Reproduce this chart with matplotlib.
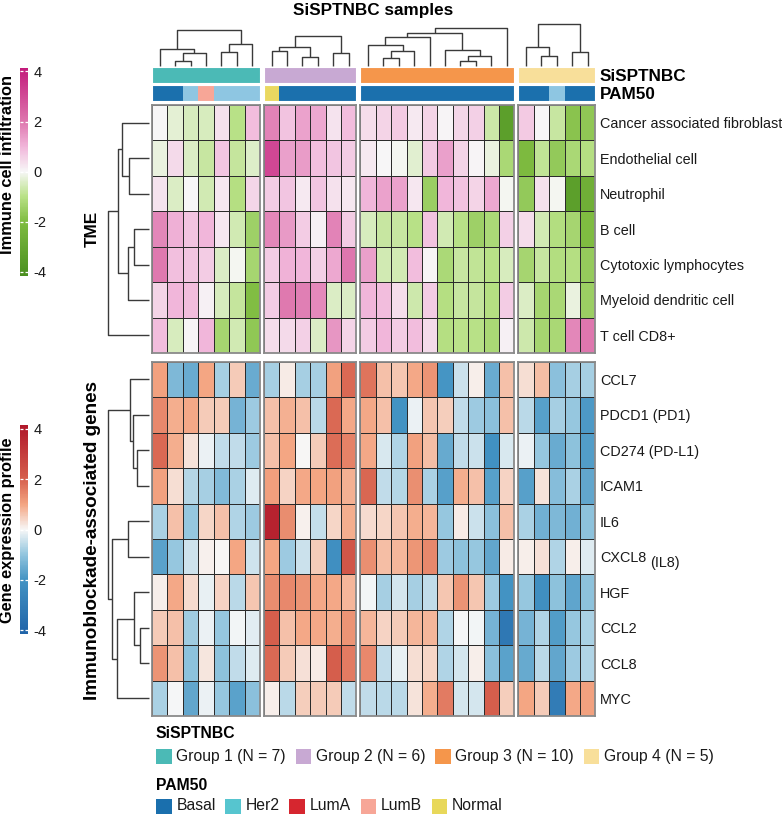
import numpy as np
import matplotlib
matplotlib.use("Agg")
import matplotlib.pyplot as plt
import matplotlib.cm as cm
from matplotlib.colors import LinearSegmentedColormap, ListedColormap, Normalize
from matplotlib.patches import Rectangle

plt.rcParams['font.family'] = ['Liberation Sans', 'DejaVu Sans']
plt.rcParams['axes.unicode_minus'] = False

# ---------------------------------------------------------------------------
# data
# ---------------------------------------------------------------------------
GROUP_LABELS = ['Group 1 (N = 7)', 'Group 2 (N = 6)', 'Group 3 (N = 10)', 'Group 4 (N = 5)']
GROUP_N = [7, 6, 10, 5]
GROUP_COLORS = ['#4bbab6', '#c8a9d3', '#f5964b', '#f8df9a']

PAM50_CLASSES = ['Basal', 'Her2', 'LumA', 'LumB', 'Normal']
PAM50_KEY_COLORS = ['#1a6fad', '#56c5cf', '#d6262f', '#f7a697', '#e8d85a']
PAM50_BAR_COLORS = {'Basal': '#1b70ad', 'Her2': '#8ec6e2', 'LumA': '#d6262f',
                    'LumB': '#f7a697', 'Normal': '#ead860'}

pam50 = ['Basal', 'Basal', 'Her2', 'LumB', 'Her2', 'Her2', 'Her2',
         'Normal', 'Basal', 'Basal', 'Basal', 'Basal', 'Basal',
         'Basal', 'Basal', 'Basal', 'Basal', 'Basal', 'Basal', 'Basal', 'Basal', 'Basal', 'Basal',
         'Basal', 'Basal', 'Her2', 'Basal', 'Basal']

tme_rows = ['Cancer associated fibroblast', 'Endothelial cell', 'Neutrophil', 'B cell',
            'Cytotoxic lymphocytes', 'Myeloid dendritic cell', 'T cell CD8+']
tme_values = np.array([
    [0.0, -0.3, -0.5, -0.5, 0.35, -1.0, 0.9, 1.8, 0.8, 1.3, 1.2, 0.3, 0.9,
     0.4, 0.55, 0.7, 0.2, 0.55, 0.05, 0.5, 0.6, -0.7, -3.4, 0.7, 0.0, -0.75, -1.8, -1.7],
    [-0.2, 0.45, -0.45, -0.75, 0.75, -0.8, -0.4, 3.1, 1.35, 1.4, 0.85, 0.75, 0.65,
     0.2, 0.0, -0.05, -0.35, 0.7, 1.35, 0.55, 0.05, -0.2, -1.25, -2.1, -0.85, -1.65, -1.25, -1.05],
    [0.3, -0.45, 0.0, -0.6, 0.25, -1.05, 0.5, 0.65, 0.75, 0.2, 0.75, 0.35, 0.25,
     1.0, 1.3, 1.3, 0.25, -1.5, 1.0, 0.8, 0.55, 1.2, -0.05, -1.65, 0.35, -0.05, -3.4, -2.6],
    [1.75, 1.1, 0.8, 1.0, 0.25, -0.6, -1.45, 1.75, 1.45, 0.65, 0.1, 1.8, 0.65,
     -0.5, -0.75, -0.75, -1.0, 0.8, -0.6, -1.0, -1.45, -1.2, 0.6, 0.4, -0.6, -1.1, -1.3, -2.0],
    [1.95, 0.85, 0.75, 0.65, -0.45, -0.05, -1.3, 0.65, 1.05, 1.0, 0.6, 1.2, 2.0,
     1.35, -0.6, -0.6, 0.9, 0.05, -1.2, -0.75, -0.85, -1.0, -0.5, -1.3, -0.75, -1.1, -1.05, -1.6],
    [0.55, 1.0, 0.9, 0.1, -0.5, -0.8, -1.95, 0.65, 1.95, 1.85, 1.7, -0.45, -0.45,
     1.0, 0.9, 0.4, -0.65, 0.65, -1.05, -0.75, -0.8, -1.05, 0.65, -0.45, -1.3, -1.25, -0.2, -1.5],
    [0.9, -0.5, 0.05, 1.0, -1.3, -0.6, -1.7, 0.4, 0.45, 0.6, -0.45, 1.5, 0.55,
     0.65, 1.0, 0.65, 0.9, 0.45, -1.05, -0.95, -1.0, -1.25, 0.1, -0.65, -1.3, -1.25, 1.75, 2.0],
])

gene_rows = ['CCL7', 'PDCD1 (PD1)', 'CD274 (PD-L1)', 'ICAM1', 'IL6', 'CXCL8',
             'HGF', 'CCL2', 'CCL8', 'MYC']
gene_values = np.array([
    [1.05, -1.25, -1.5, 1.0, -0.8, 0.55, -1.5, -0.8, 0.15, -0.8, -0.8, 1.05, 1.85,
     1.7, 0.65, 0.6, 0.95, 1.25, -1.95, -0.45, 0.12, -1.5, 0.65, 0.3, 0.7, -1.1, -0.8, -0.8],
    [1.4, 0.9, 0.95, 0.55, 0.55, -1.35, -0.9, 0.65, 0.85, 0.65, -0.6, 1.85, 0.95,
     0.95, 0.65, -2.0, -0.1, 0.6, 0.5, -0.55, -0.9, -1.1, 0.65, -0.6, -1.75, -0.8, -0.95, -1.85],
    [1.85, 0.9, 0.25, -0.1, -0.55, -0.55, -0.9, 0.65, 1.0, 0.0, 0.55, 1.8, 1.5,
     0.95, -0.3, -0.7, 1.05, 0.7, -1.55, -0.55, -0.45, -2.1, -0.3, -0.1, -0.95, -1.5, -1.05, -1.8],
    [1.05, 0.3, -0.65, -0.8, -1.2, -0.75, -0.25, 1.1, 0.45, 0.95, 1.0, 1.05, 0.85,
     1.9, -0.55, -0.65, 1.3, -0.75, -1.75, 0.9, 0.65, -1.75, 0.45, -1.75, 0.25, -1.15, -0.75, -1.6],
    [-0.75, 0.65, -0.95, 0.4, 0.65, -0.7, -0.9, 3.8, 1.35, 0.08, -0.5, 0.4, 0.9,
     0.35, 0.4, 0.6, 0.9, 0.8, -0.95, 0.15, -0.45, -1.1, 0.65, -0.75, -1.4, -1.25, -1.4, -1.05],
    [-1.7, -0.95, -0.4, 0.08, 0.0, 1.0, -0.4, 1.0, -0.9, -0.45, 0.55, -2.15, 2.3,
     1.3, 0.7, 0.8, 1.2, 1.4, -0.9, -1.05, -0.95, -1.6, 0.15, 0.12, 0.28, -0.7, 0.1, -0.25],
    [0.12, 0.95, 0.33, -0.15, 0.45, -0.6, 0.6, 1.35, 1.4, 1.25, 0.95, 0.95, 0.8,
     -0.05, -0.8, -0.35, -0.8, -0.55, 0.6, 1.25, 0.6, -0.9, -2.0, -0.95, -2.2, -1.05, -1.65, -1.05],
    [0.55, 0.65, -0.85, -0.1, -0.95, -0.05, -0.2, 2.05, 0.65, 0.95, 0.95, 0.9, 1.25,
     0.8, 0.45, 0.55, 0.8, 0.8, -0.7, -0.03, -0.05, -1.35, -3.2, -1.35, -0.7, -1.8, -0.95, -0.75],
    [1.25, 0.65, -1.05, 0.22, -1.05, -0.55, -0.25, 1.85, 0.55, 0.28, 0.15, 2.05, 1.6,
     1.4, -0.55, -0.15, 0.3, 0.4, -0.7, -0.35, 0.12, -1.1, -1.7, -1.55, -0.6, -1.6, -0.9, -0.7],
    [-0.75, -0.03, -1.6, -0.1, -0.95, -1.7, -1.1, 0.12, -0.6, 0.5, 0.55, 0.55, -0.55,
     -0.55, -0.6, -0.6, 0.25, 0.9, 1.6, -0.35, -0.35, 2.05, 0.5, 1.0, 0.55, -3.0, 0.95, 1.05],
])

# dendrograms: (child a, child b, merge height); leaves 0..n-1, merges n, n+1, ...
col_dendros = [
    [(1, 2, 5.3), (7, 3, 13.5), (0, 8, 16.7), (4, 5, 14.5), (10, 6, 21.7), (9, 11, 36.0)],
    [(0, 1, 15.3), (2, 3, 8.7), (6, 7, 19.3), (4, 5, 13.3), (8, 9, 30.5)],
    [(1, 2, 7.7), (10, 3, 15.3), (0, 11, 21.0), (12, 4, 28.7), (6, 7, 5.3),
     (14, 8, 10.5), (5, 15, 16.0), (13, 16, 32.7), (17, 9, 37.7)],
    [(1, 2, 10.0), (0, 5, 19.3), (3, 4, 14.3), (6, 7, 42.0)],
]
tme_dendro = [(1, 2, 20.0), (0, 7, 27.7), (3, 4, 15.0), (9, 5, 21.0), (8, 10, 31.7), (11, 6, 41.0)]
gene_dendro = [(2, 3, 12.6), (1, 10, 16.6), (0, 11, 19.3), (4, 5, 21.0), (7, 8, 9.3),
               (6, 14, 15.0), (15, 9, 32.6), (13, 16, 37.6), (12, 17, 41.0)]

# ---------------------------------------------------------------------------
# colours
# ---------------------------------------------------------------------------
VMAX = 4.15
def value_cmap(nodes):
    return LinearSegmentedColormap.from_list(
        'c', [((v + VMAX) / (2 * VMAX), c) for v, c in nodes])

tme_cmap = value_cmap([(-VMAX, '#4a8f1f'), (-2, '#7fbc41'), (-1, '#b8e186'), (0, '#f7f7f7'),
                       (1, '#f1b6da'), (2, '#de77ae'), (VMAX, '#c31a7b')])
gene_cmap = value_cmap([(-VMAX, '#1f63a8'), (-2, '#4393c3'), (-1, '#92c5de'), (0, '#f7f7f7'),
                        (1, '#f4a582'), (2, '#d6604d'), (VMAX, '#b0172a')])
norm = Normalize(-VMAX, VMAX)

# ---------------------------------------------------------------------------
# layout (pixels)
# ---------------------------------------------------------------------------
W, H = 782, 814
fig = plt.figure(figsize=(W / 100, H / 100), dpi=100)

def px_axes(x0, y0, x1, y1):
    return fig.add_axes([x0 / W, 1 - y1 / H, (x1 - x0) / W, (y1 - y0) / H])

CELL_W, GAP, X_START = 15.42, 3.9, 152.0
ROW_H = 35.45
TME_Y0, GENE_Y0 = 105.0, 361.7
LINE = '#3a3a3a'
TXT = '#1a1a1a'

group_x = []
x = X_START
for n in GROUP_N:
    group_x.append((x, x + n * CELL_W))
    x += n * CELL_W + GAP

def draw_dendro(ax, merges, n, top=True):
    pos = {i: i + 0.5 for i in range(n)}
    hgt = {i: 0.0 for i in range(n)}
    for k, (a, b, h) in enumerate(merges):
        xs = [pos[a], pos[a], pos[b], pos[b]]
        ys = [hgt[a], h, h, hgt[b]]
        if top:
            ax.plot(xs, ys, color=LINE, lw=1.0, clip_on=False, solid_capstyle='butt')
        else:
            ax.plot(ys, xs, color=LINE, lw=1.0, clip_on=False, solid_capstyle='butt')
        pos[n + k] = (pos[a] + pos[b]) / 2
        hgt[n + k] = h
    ax.axis('off')

starts = np.cumsum([0] + GROUP_N)
blocks = [(tme_values, tme_rows, TME_Y0, tme_cmap), (gene_values, gene_rows, GENE_Y0, gene_cmap)]

for g, (gx0, gx1) in enumerate(group_x):
    n = GROUP_N[g]
    sl = slice(starts[g], starts[g + 1])

    # column dendrogram
    axd = px_axes(gx0, 20, gx1, 66)
    draw_dendro(axd, col_dendros[g], n, top=True)
    axd.set_xlim(0, n)
    axd.set_ylim(0, 46)

    # annotation bars
    axa = px_axes(gx0, 67, gx1, 83)
    axa.pcolormesh(np.zeros((1, n)), cmap=ListedColormap([GROUP_COLORS[g]]),
                   edgecolors='none')
    axb = px_axes(gx0, 85, gx1, 101)
    codes = np.array([[PAM50_CLASSES.index(p) for p in pam50[sl]]])
    axb.pcolormesh(codes, cmap=ListedColormap([PAM50_BAR_COLORS[c] for c in PAM50_CLASSES]),
                   vmin=-0.5, vmax=len(PAM50_CLASSES) - 0.5, edgecolors='none')
    for a, lab in ((axa, 'SiSPTNBC'), (axb, 'PAM50')):
        a.set_xlim(0, n)
        a.set_xticks([])
        for s in a.spines.values():
            s.set_color('white')
            s.set_linewidth(0.8)
        if g == len(GROUP_N) - 1:
            a.yaxis.tick_right()
            a.set_yticks([0.5])
            a.set_yticklabels([lab], fontweight='bold', fontsize=12.3, color='black')
            a.tick_params(axis='y', length=0, pad=3)
        else:
            a.set_yticks([])

    # heatmap slices
    for vals, rows, y0, cmap in blocks:
        nr = len(rows)
        ax = px_axes(gx0, y0, gx1, y0 + nr * ROW_H)
        ax.pcolormesh(vals[:, sl], cmap=cmap, norm=norm, edgecolors='#2b2b2b', linewidth=0.6)
        ax.set_xlim(0, n)
        ax.set_ylim(nr, 0)
        ax.set_xticks([])
        for s in ax.spines.values():
            s.set_color('#8a8a8a')
            s.set_linewidth(1.3)
        if g == len(GROUP_N) - 1:
            ax.yaxis.tick_right()
            ax.set_yticks(np.arange(nr) + 0.5)
            ax.set_yticklabels(rows, fontsize=10.4, color=TXT)
            ax.tick_params(axis='y', length=0, pad=3.3)
            if rows is gene_rows:
                gene_ax = ax
        else:
            ax.set_yticks([])

# row dendrograms
for merges, rows, y0 in ((tme_dendro, tme_rows, TME_Y0), (gene_dendro, gene_rows, GENE_Y0)):
    nr = len(rows)
    axr = px_axes(99.3, y0, 149.3, y0 + nr * ROW_H)
    draw_dendro(axr, merges, nr, top=False)
    axr.set_xlim(50, 0)
    axr.set_ylim(nr, 0)

# row-group titles and main title
fig.text(373.5 / W, 1 - 10.5 / H, 'SiSPTNBC samples', ha='center', va='center',
         fontweight='bold', fontsize=12.3)
fig.text(92 / W, 1 - 229 / H, 'TME', rotation=90, ha='center',
         va='center', fontweight='bold', fontsize=12.3)
fig.text(92.5 / W, 1 - 540 / H, 'Immunoblockade-associated genes',
         rotation=90, ha='center', va='center', fontweight='bold', fontsize=13.6)

# colour keys
def draw_cbar(cmap, y0, y1, label, label_y):
    cax = px_axes(20, y0, 28, y1)
    sm = cm.ScalarMappable(norm=norm, cmap=cmap)
    cb = fig.colorbar(sm, cax=cax, ticks=[-4, -2, 0, 2, 4])
    cb.outline.set_visible(False)
    cax.tick_params(axis='y', direction='in', length=2.5, width=0.9, color='white',
                    left=True, right=True, labelsize=10.5, labelcolor=TXT, pad=4)
    fig.text(8 / W, 1 - label_y / H, label, rotation=90, ha='center', va='center',
             fontweight='bold', fontsize=11.8)

draw_cbar(tme_cmap, 67.7, 275.7, 'Immune cell infiltration', 165)
draw_cbar(gene_cmap, 425.0, 634.0, 'Gene expression profile', 530)

# legends
fig.canvas.draw()
renderer = fig.canvas.get_renderer()

# "(IL8)" hanging below CXCL8
for t in gene_ax.get_yticklabels():
    if t.get_text() == 'CXCL8':
        bb = t.get_window_extent(renderer=renderer)
        fig.text((bb.x1 + 4) / W, (bb.y0 + bb.y1) / 2 / H - 5 / H, '(IL8)',
                 ha='left', va='center', fontsize=10.4, color=TXT)

def key_row(y_title, y_keys, title, labels, colors):
    fig.text(156 / W, 1 - y_title / H, title, fontweight='bold', fontsize=11.3,
             ha='left', va='center')
    xk = 156.0
    for lab, col in zip(labels, colors):
        fig.patches.append(Rectangle((xk / W, 1 - (y_keys + 7.5) / H), 15.5 / W, 15 / H,
                                     transform=fig.transFigure, facecolor=col,
                                     edgecolor='none'))
        t = fig.text((xk + 20.5) / W, 1 - y_keys / H, lab, fontsize=11.3, color=TXT,
                     ha='left', va='center')
        xk = t.get_window_extent(renderer=renderer).x1 + 9.5

key_row(733, 756.5, 'SiSPTNBC', GROUP_LABELS, GROUP_COLORS)
key_row(785, 806, 'PAM50', PAM50_CLASSES, PAM50_KEY_COLORS)

fig.savefig('out.png', dpi=100)
